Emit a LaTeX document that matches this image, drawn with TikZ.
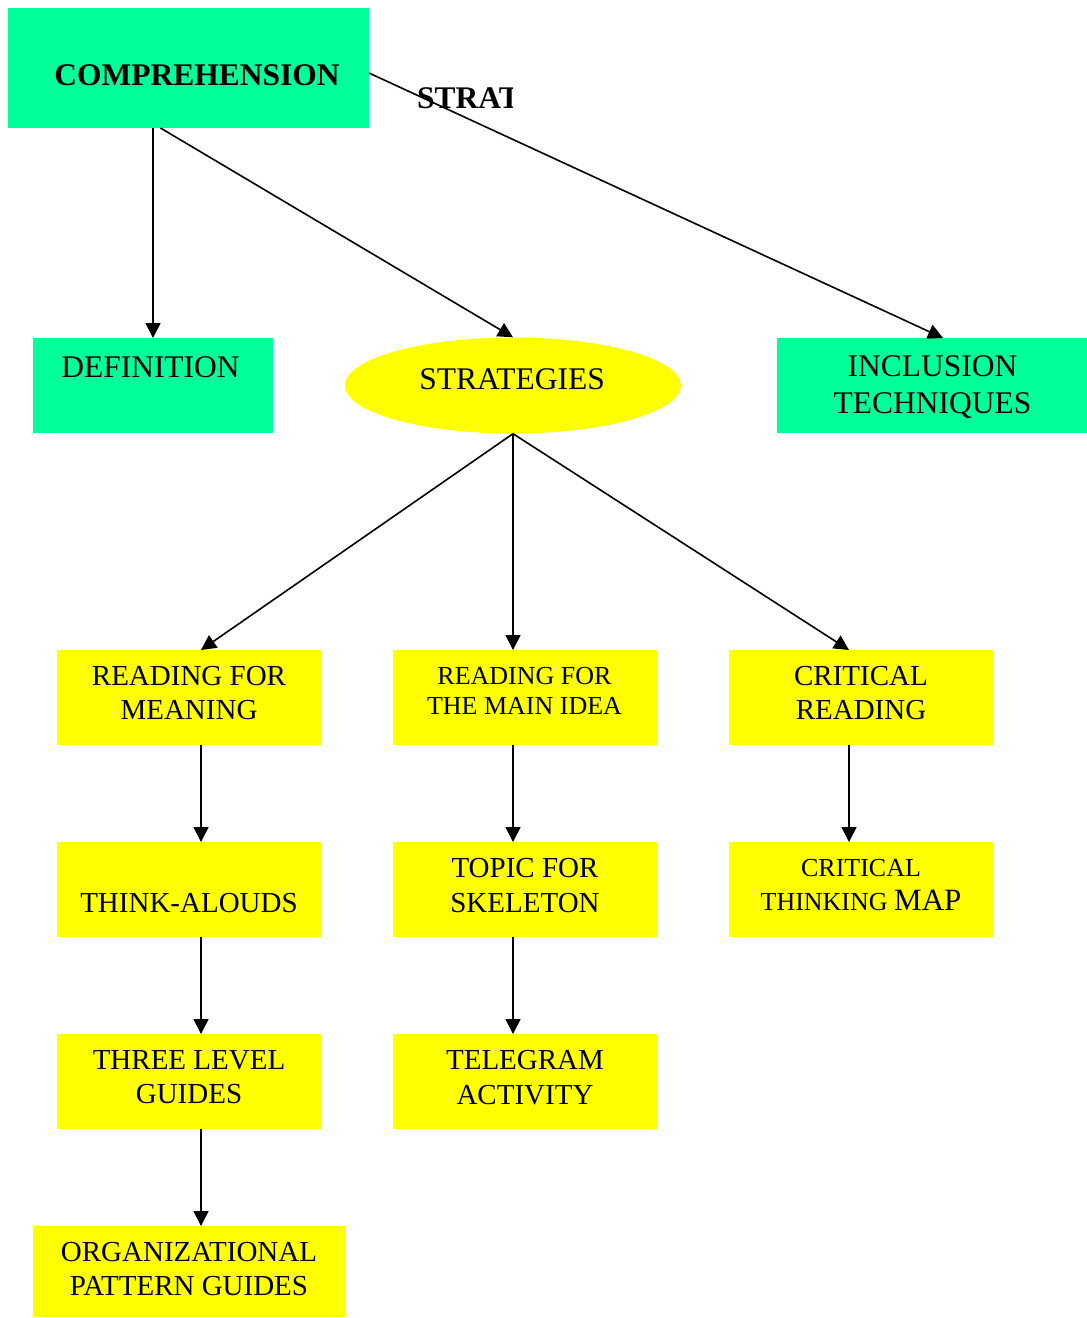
\documentclass[tikz,border=0pt]{standalone}
\usepackage{fontspec}
\setmainfont{Liberation Serif}
\usetikzlibrary{arrows.meta,shapes.geometric}
\definecolor{mint}{RGB}{0,255,153}
\definecolor{lemon}{RGB}{255,255,0}
\begin{document}
\begin{tikzpicture}[x=1pt,y=-1pt,
  gbox/.style={rectangle, fill=mint, inner sep=0, outer sep=0},
  ybox/.style={rectangle, fill=lemon, inner sep=0, outer sep=0, minimum width=264, minimum height=95},
  txt/.style={align=center, inner sep=0, text depth=0pt},
  big/.style={font=\fontsize{31.5}{37}\selectfont},
  mid/.style={font=\fontsize{29}{34}\selectfont},
  small/.style={font=\fontsize{26}{30}\selectfont},
  arr/.style={line width=1.6pt, -{Triangle[length=15pt,width=15pt]}}]
\useasboundingbox (0,0) rectangle (1087,1318);

% --- top level ---
\node[gbox, minimum width=361, minimum height=120] (comp) at (188.5,68) {};
\node[txt, font=\fontsize{31.5}{37}\selectfont\bfseries] (compT) at (197,75) {COMPREHENSION};

\node[gbox, minimum width=240, minimum height=95] (def) at (153,385.5) {};
\node[txt, big] (defT) at (150.5,367) {DEFINITION};

\node[ellipse, fill=lemon, inner sep=0, minimum width=336, minimum height=96] (strat) at (513,385.5) {};
\node[txt, big] (stratT) at (512,379) {STRATEGIES};

\node[gbox, minimum width=310, minimum height=95] (incl) at (932,385.5) {};
\node[txt, big] (inclT) at (932.5,385) {INCLUSION\\TECHNIQUES};

% truncated caption beside the top box
\begin{scope}
  \clip (400,70) rectangle (512,125);
  \node[inner sep=0, anchor=base west, font=\fontsize{31.5}{37}\selectfont\bfseries] (stratcap) at (417,108) {STRAT};
\end{scope}

% --- strategy columns ---
\node[ybox] (rfm) at (189,697.5) {};
\node[txt, mid] (rfmT) at (189,693) {READING FOR\\MEANING};
\node[ybox] (rmi) at (525,697.5) {};
\node[txt, small] (rmiT) at (524.5,691) {READING FOR\\THE MAIN IDEA};
\node[ybox] (crr) at (861,697.5) {};
\node[txt, mid] (crrT) at (861,693) {CRITICAL\\READING};

\node[ybox] (think) at (189,889.5) {};
\node[txt, mid] (thinkT) at (189,903) {THINK-ALOUDS};
\node[ybox] (topic) at (525,889.5) {};
\node[txt, font=\fontsize{29}{35}\selectfont] (topicT) at (525,885.5) {TOPIC FOR\\SKELETON};
\node[ybox] (ctm) at (861,889.5) {};
\node[txt, font=\fontsize{26}{34}\selectfont] (ctmT) at (861,885) {CRITICAL\\THINKING {\fontsize{31}{34}\selectfont MAP}};

\node[ybox] (three) at (189,1081.5) {};
\node[txt, mid] (threeT) at (189,1077) {THREE LEVEL\\GUIDES};
\node[ybox] (tele) at (525,1081.5) {};
\node[txt, font=\fontsize{29}{35}\selectfont] (teleT) at (525,1077.5) {TELEGRAM\\ACTIVITY};

\node[ybox, minimum width=312, minimum height=91] (org) at (189,1271.5) {};
\node[txt, mid] (orgT) at (189,1269) {ORGANIZATIONAL\\PATTERN GUIDES};

% --- connectors ---
\draw[arr] (comp.south -| def.north) -- (def.north);
\draw[arr] ([xshift=-28]comp.south) -- (strat.north);
\draw[arr] ([yshift=-5]comp.east) -- ([xshift=11]incl.north);

\draw[arr] (strat.south) -- ([xshift=12]rfm.north);
\draw[arr] (strat.south) -- ([xshift=-12]rmi.north);
\draw[arr] (strat.south) -- ([xshift=-12]crr.north);

\draw[arr] ([xshift=12]rfm.south) -- ([xshift=12]think.north);
\draw[arr] ([xshift=12]think.south) -- ([xshift=12]three.north);
\draw[arr] ([xshift=12]three.south) -- ([xshift=12]org.north);

\draw[arr] ([xshift=-12]rmi.south) -- ([xshift=-12]topic.north);
\draw[arr] ([xshift=-12]topic.south) -- ([xshift=-12]tele.north);

\draw[arr] ([xshift=-12]crr.south) -- ([xshift=-12]ctm.north);
\end{tikzpicture}
\end{document}
